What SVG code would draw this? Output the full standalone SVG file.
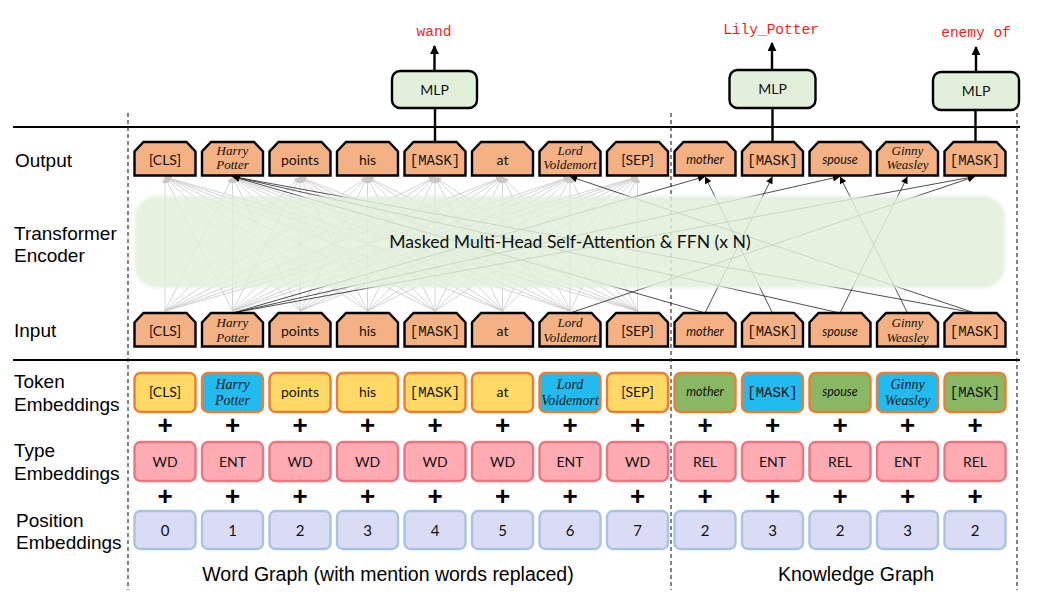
<svg xmlns="http://www.w3.org/2000/svg" width="1041" height="605" viewBox="0 0 1041 605">
<style>
.lbl{font-family:"Liberation Sans",Arial,sans-serif;font-size:19px;fill:#000}
.hex{fill:#F4B183;stroke:#000;stroke-width:2.4}
.tk{stroke:#ED7D31;stroke-width:2.4}
.ty{fill:#FFD966}.tb{fill:#22BBF0}.tg{fill:#88B863}
.typ{fill:#FFABB4;stroke:#EA7680;stroke-width:2.4}
.pos{fill:#DADCF5;stroke:#A9C3E3;stroke-width:2.4}
.mlp{fill:#E2EFDA;stroke:#000;stroke-width:2.4}
.t{font-family:Lato,"Open Sans",sans-serif;font-size:14px;text-anchor:middle;fill:#111}
.ti{font-family:Lato,"Open Sans",sans-serif;font-size:12.5px;font-style:italic;text-anchor:middle;fill:#111}
.m{font-family:"Liberation Mono",monospace;font-size:14px;text-anchor:middle;fill:#111}
.s{font-family:"Liberation Serif",serif;font-style:italic;font-size:13px;text-anchor:middle;fill:#111}
.red{font-family:"Liberation Mono",monospace;font-size:14.5px;text-anchor:middle;fill:#F01E1E}
.plus{font-family:"Liberation Sans",Arial,sans-serif;font-weight:bold;font-size:26px;text-anchor:middle}
.gl line{stroke:#C8C8C8;stroke-width:0.8;marker-end:url(#ga)}
.bl line{stroke:#222;stroke-width:0.8;marker-end:url(#ba)}
.sep{stroke:#000;stroke-width:2}
.dash{stroke:#333;stroke-width:1.2;stroke-dasharray:4 3}
</style>
<defs>
<path id="hx" d="M-30.5,33.5V9.5L-21.5,0H21.5L30.5,9.5V33.5Z"/>
<marker id="ga" viewBox="0 0 10 10" refX="10" refY="5" markerWidth="7" markerHeight="6" markerUnits="userSpaceOnUse" orient="auto"><path d="M0,0L10,5L0,10Z" fill="#C8C8C8"/></marker>
<marker id="ba" viewBox="0 0 10 10" refX="10" refY="5" markerWidth="8" markerHeight="7" markerUnits="userSpaceOnUse" orient="auto"><path d="M0,0L10,5L0,10Z" fill="#000"/></marker>
<marker id="ka" viewBox="0 0 10 10" refX="9" refY="5" markerWidth="9" markerHeight="9" markerUnits="userSpaceOnUse" orient="auto"><path d="M0,0L10,5L0,10Z" fill="#000"/></marker>
<filter id="soft" x="-5%" y="-10%" width="110%" height="120%"><feGaussianBlur stdDeviation="1.5"/></filter>
</defs>
<rect width="1041" height="605" fill="#fff"/>

<!-- separators -->
<g id="frame">
<line class="sep" x1="13" y1="127" x2="1020" y2="127"/>
<line class="sep" x1="13" y1="360" x2="1020" y2="360"/>
<line class="dash" x1="128" y1="113" x2="128" y2="590"/>
<line class="dash" x1="671" y1="113" x2="671" y2="590"/>
<line class="dash" x1="1017" y1="113" x2="1017" y2="590"/>
</g>

<!-- row labels -->
<g id="labels" class="lbl">
<text x="15" y="167">Output</text>
<text x="14" y="240">Transformer</text>
<text x="14" y="262">Encoder</text>
<text x="14" y="337">Input</text>
<text x="14" y="388">Token</text>
<text x="14" y="411">Embeddings</text>
<text x="14" y="457">Type</text>
<text x="14" y="480">Embeddings</text>
<text x="16" y="527">Position</text>
<text x="16" y="549">Embeddings</text>
<text x="388" y="581" style="text-anchor:middle;font-size:19.5px">Word Graph (with mention words replaced)</text>
<text x="856" y="581" style="text-anchor:middle;font-size:19.5px">Knowledge Graph</text>
</g>

<!-- connectors -->
<g id="connectors">
<g class="gl">
<line x1="165" y1="311" x2="165" y2="177"/><line x1="165" y1="311" x2="232.5" y2="177"/><line x1="165" y1="311" x2="300" y2="177"/><line x1="165" y1="311" x2="367.5" y2="177"/><line x1="165" y1="311" x2="435" y2="177"/><line x1="165" y1="311" x2="502.5" y2="177"/><line x1="165" y1="311" x2="570" y2="177"/><line x1="165" y1="311" x2="637.5" y2="177"/>
<line x1="232.5" y1="311" x2="165" y2="177"/><line x1="232.5" y1="311" x2="232.5" y2="177"/><line x1="232.5" y1="311" x2="300" y2="177"/><line x1="232.5" y1="311" x2="367.5" y2="177"/><line x1="232.5" y1="311" x2="435" y2="177"/><line x1="232.5" y1="311" x2="502.5" y2="177"/><line x1="232.5" y1="311" x2="570" y2="177"/><line x1="232.5" y1="311" x2="637.5" y2="177"/>
<line x1="300" y1="311" x2="165" y2="177"/><line x1="300" y1="311" x2="232.5" y2="177"/><line x1="300" y1="311" x2="300" y2="177"/><line x1="300" y1="311" x2="367.5" y2="177"/><line x1="300" y1="311" x2="435" y2="177"/><line x1="300" y1="311" x2="502.5" y2="177"/><line x1="300" y1="311" x2="570" y2="177"/><line x1="300" y1="311" x2="637.5" y2="177"/>
<line x1="367.5" y1="311" x2="165" y2="177"/><line x1="367.5" y1="311" x2="232.5" y2="177"/><line x1="367.5" y1="311" x2="300" y2="177"/><line x1="367.5" y1="311" x2="367.5" y2="177"/><line x1="367.5" y1="311" x2="435" y2="177"/><line x1="367.5" y1="311" x2="502.5" y2="177"/><line x1="367.5" y1="311" x2="570" y2="177"/><line x1="367.5" y1="311" x2="637.5" y2="177"/>
<line x1="435" y1="311" x2="165" y2="177"/><line x1="435" y1="311" x2="232.5" y2="177"/><line x1="435" y1="311" x2="300" y2="177"/><line x1="435" y1="311" x2="367.5" y2="177"/><line x1="435" y1="311" x2="435" y2="177"/><line x1="435" y1="311" x2="502.5" y2="177"/><line x1="435" y1="311" x2="570" y2="177"/><line x1="435" y1="311" x2="637.5" y2="177"/>
<line x1="502.5" y1="311" x2="165" y2="177"/><line x1="502.5" y1="311" x2="232.5" y2="177"/><line x1="502.5" y1="311" x2="300" y2="177"/><line x1="502.5" y1="311" x2="367.5" y2="177"/><line x1="502.5" y1="311" x2="435" y2="177"/><line x1="502.5" y1="311" x2="502.5" y2="177"/><line x1="502.5" y1="311" x2="570" y2="177"/><line x1="502.5" y1="311" x2="637.5" y2="177"/>
<line x1="570" y1="311" x2="165" y2="177"/><line x1="570" y1="311" x2="232.5" y2="177"/><line x1="570" y1="311" x2="300" y2="177"/><line x1="570" y1="311" x2="367.5" y2="177"/><line x1="570" y1="311" x2="435" y2="177"/><line x1="570" y1="311" x2="502.5" y2="177"/><line x1="570" y1="311" x2="570" y2="177"/><line x1="570" y1="311" x2="637.5" y2="177"/>
<line x1="637.5" y1="311" x2="165" y2="177"/><line x1="637.5" y1="311" x2="232.5" y2="177"/><line x1="637.5" y1="311" x2="300" y2="177"/><line x1="637.5" y1="311" x2="367.5" y2="177"/><line x1="637.5" y1="311" x2="435" y2="177"/><line x1="637.5" y1="311" x2="502.5" y2="177"/><line x1="637.5" y1="311" x2="570" y2="177"/><line x1="637.5" y1="311" x2="637.5" y2="177"/>
</g>
<g class="bl">
<line x1="232.5" y1="313" x2="705" y2="176.5"/>
<line x1="705" y1="313" x2="232.5" y2="176.5"/>
<line x1="705" y1="313" x2="772.5" y2="176.5"/>
<line x1="772.5" y1="313" x2="705" y2="176.5"/>
<line x1="232.5" y1="313" x2="840" y2="176.5"/>
<line x1="840" y1="313" x2="232.5" y2="176.5"/>
<line x1="840" y1="313" x2="907.5" y2="176.5"/>
<line x1="907.5" y1="313" x2="840" y2="176.5"/>
<line x1="232.5" y1="313" x2="975" y2="176.5"/>
<line x1="975" y1="313" x2="232.5" y2="176.5"/>
<line x1="975" y1="313" x2="570" y2="176.5"/>
<line x1="570" y1="313" x2="975" y2="176.5"/>
</g>
<g stroke="#000" stroke-width="2.4">
<line x1="435" y1="142" x2="435" y2="108"/>
<line x1="772.5" y1="142" x2="772.5" y2="108"/>
<line x1="975.5" y1="142" x2="975.5" y2="110"/>
<line x1="434.5" y1="71" x2="434.5" y2="46" marker-end="url(#ka)"/>
<line x1="772" y1="70" x2="772" y2="43" marker-end="url(#ka)"/>
<line x1="976" y1="72" x2="976" y2="47" marker-end="url(#ka)"/>
</g>
</g>

<!-- encoder -->
<g id="encoder">
<rect x="135" y="196" width="870" height="92" rx="22" fill="#E2EFD9" fill-opacity="0.85" filter="url(#soft)"/>
<text x="570" y="248" style="font-family:Lato,'Open Sans',sans-serif;font-size:17.6px;text-anchor:middle;fill:#111">Masked Multi-Head Self-Attention &amp; FFN (x N)</text>
</g>

<!-- MLP heads -->
<g id="mlp-wand"><rect class="mlp" x="392" y="71" width="85" height="37" rx="8"/><text class="t" x="434.5" y="94.5">MLP</text><text class="red" x="434" y="36">wand</text></g>
<g id="mlp-lily"><rect class="mlp" x="729.5" y="70" width="86" height="38" rx="8"/><text class="t" x="772.5" y="94">MLP</text><text class="red" x="771" y="34">Lily_Potter</text></g>
<g id="mlp-enemy"><rect class="mlp" x="933" y="72" width="86" height="38" rx="8"/><text class="t" x="976" y="96">MLP</text><text class="red" x="976" y="37">enemy of</text></g>

<!-- output nodes -->
<g id="out-0"><use href="#hx" class="hex" x="165" y="142"/><text class="t" x="165" y="165">[CLS]</text></g>
<g id="out-1"><use href="#hx" class="hex" x="232.5" y="142"/><text class="s" x="232.5" y="155">Harry</text><text class="s" x="232.5" y="169">Potter</text></g>
<g id="out-2"><use href="#hx" class="hex" x="300" y="142"/><text class="t" x="300" y="165">points</text></g>
<g id="out-3"><use href="#hx" class="hex" x="367.5" y="142"/><text class="t" x="367.5" y="165">his</text></g>
<g id="out-4"><use href="#hx" class="hex" x="435" y="142"/><text class="m" x="435" y="165">[MASK]</text></g>
<g id="out-5"><use href="#hx" class="hex" x="502.5" y="142"/><text class="t" x="502.5" y="165">at</text></g>
<g id="out-6"><use href="#hx" class="hex" x="570" y="142"/><text class="s" x="570" y="155">Lord</text><text class="s" x="570" y="169">Voldemort</text></g>
<g id="out-7"><use href="#hx" class="hex" x="637.5" y="142"/><text class="t" x="637.5" y="165">[SEP]</text></g>
<g id="out-8"><use href="#hx" class="hex" x="705" y="142"/><text class="ti" x="705" y="164">mother</text></g>
<g id="out-9"><use href="#hx" class="hex" x="772.5" y="142"/><text class="m" x="772.5" y="165">[MASK]</text></g>
<g id="out-10"><use href="#hx" class="hex" x="840" y="142"/><text class="ti" x="840" y="164">spouse</text></g>
<g id="out-11"><use href="#hx" class="hex" x="907.5" y="142"/><text class="s" x="907.5" y="155">Ginny</text><text class="s" x="907.5" y="169">Weasley</text></g>
<g id="out-12"><use href="#hx" class="hex" x="975" y="142"/><text class="m" x="975" y="165">[MASK]</text></g>

<!-- input nodes -->
<g id="in-0"><use href="#hx" class="hex" x="165" y="313"/><text class="t" x="165" y="336">[CLS]</text></g>
<g id="in-1"><use href="#hx" class="hex" x="232.5" y="313"/><text class="s" x="232.5" y="327">Harry</text><text class="s" x="232.5" y="342">Potter</text></g>
<g id="in-2"><use href="#hx" class="hex" x="300" y="313"/><text class="t" x="300" y="336">points</text></g>
<g id="in-3"><use href="#hx" class="hex" x="367.5" y="313"/><text class="t" x="367.5" y="336">his</text></g>
<g id="in-4"><use href="#hx" class="hex" x="435" y="313"/><text class="m" x="435" y="336">[MASK]</text></g>
<g id="in-5"><use href="#hx" class="hex" x="502.5" y="313"/><text class="t" x="502.5" y="336">at</text></g>
<g id="in-6"><use href="#hx" class="hex" x="570" y="313"/><text class="s" x="570" y="327">Lord</text><text class="s" x="570" y="342">Voldemort</text></g>
<g id="in-7"><use href="#hx" class="hex" x="637.5" y="313"/><text class="t" x="637.5" y="336">[SEP]</text></g>
<g id="in-8"><use href="#hx" class="hex" x="705" y="313"/><text class="ti" x="705" y="336">mother</text></g>
<g id="in-9"><use href="#hx" class="hex" x="772.5" y="313"/><text class="m" x="772.5" y="336">[MASK]</text></g>
<g id="in-10"><use href="#hx" class="hex" x="840" y="313"/><text class="ti" x="840" y="336">spouse</text></g>
<g id="in-11"><use href="#hx" class="hex" x="907.5" y="313"/><text class="s" x="907.5" y="327">Ginny</text><text class="s" x="907.5" y="342">Weasley</text></g>
<g id="in-12"><use href="#hx" class="hex" x="975" y="313"/><text class="m" x="975" y="336">[MASK]</text></g>

<!-- token embeddings -->
<g id="tok-0"><rect class="tk ty" x="134.5" y="373" width="61" height="39" rx="6"/><text class="t" x="165" y="397">[CLS]</text></g>
<g id="tok-1"><rect class="tk tb" x="202" y="373" width="61" height="39" rx="6"/><text class="s" x="232.5" y="389" style="font-size:14px">Harry</text><text class="s" x="232.5" y="405" style="font-size:14px">Potter</text></g>
<g id="tok-2"><rect class="tk ty" x="269.5" y="373" width="61" height="39" rx="6"/><text class="t" x="300" y="397">points</text></g>
<g id="tok-3"><rect class="tk ty" x="337" y="373" width="61" height="39" rx="6"/><text class="t" x="367.5" y="397">his</text></g>
<g id="tok-4"><rect class="tk ty" x="404.5" y="373" width="61" height="39" rx="6"/><text class="m" x="435" y="397">[MASK]</text></g>
<g id="tok-5"><rect class="tk ty" x="472" y="373" width="61" height="39" rx="6"/><text class="t" x="502.5" y="397">at</text></g>
<g id="tok-6"><rect class="tk tb" x="539.5" y="373" width="61" height="39" rx="6"/><text class="s" x="570" y="389" style="font-size:14px">Lord</text><text class="s" x="570" y="405" style="font-size:14px">Voldemort</text></g>
<g id="tok-7"><rect class="tk ty" x="607" y="373" width="61" height="39" rx="6"/><text class="t" x="637.5" y="397">[SEP]</text></g>
<g id="tok-8"><rect class="tk tg" x="674.5" y="373" width="61" height="39" rx="6"/><text class="ti" x="705" y="396">mother</text></g>
<g id="tok-9"><rect class="tk tb" x="742" y="373" width="61" height="39" rx="6"/><text class="m" x="772.5" y="397">[MASK]</text></g>
<g id="tok-10"><rect class="tk tg" x="809.5" y="373" width="61" height="39" rx="6"/><text class="ti" x="840" y="396">spouse</text></g>
<g id="tok-11"><rect class="tk tb" x="877" y="373" width="61" height="39" rx="6"/><text class="s" x="907.5" y="389" style="font-size:14px">Ginny</text><text class="s" x="907.5" y="405" style="font-size:14px">Weasley</text></g>
<g id="tok-12"><rect class="tk tg" x="944.5" y="373" width="61" height="39" rx="6"/><text class="m" x="975" y="397">[MASK]</text></g>

<!-- pluses -->
<g id="plus" class="plus">
<text x="165" y="434">+</text><text x="232.5" y="434">+</text><text x="300" y="434">+</text><text x="367.5" y="434">+</text><text x="435" y="434">+</text><text x="502.5" y="434">+</text><text x="570" y="434">+</text><text x="637.5" y="434">+</text><text x="705" y="434">+</text><text x="772.5" y="434">+</text><text x="840" y="434">+</text><text x="907.5" y="434">+</text><text x="975" y="434">+</text>
<text x="165" y="505">+</text><text x="232.5" y="505">+</text><text x="300" y="505">+</text><text x="367.5" y="505">+</text><text x="435" y="505">+</text><text x="502.5" y="505">+</text><text x="570" y="505">+</text><text x="637.5" y="505">+</text><text x="705" y="505">+</text><text x="772.5" y="505">+</text><text x="840" y="505">+</text><text x="907.5" y="505">+</text><text x="975" y="505">+</text>
</g>

<!-- type embeddings -->
<g id="type-0"><rect class="typ" x="134.5" y="442" width="61" height="39" rx="6"/><text class="t" x="165" y="467">WD</text></g>
<g id="type-1"><rect class="typ" x="202" y="442" width="61" height="39" rx="6"/><text class="t" x="232.5" y="467">ENT</text></g>
<g id="type-2"><rect class="typ" x="269.5" y="442" width="61" height="39" rx="6"/><text class="t" x="300" y="467">WD</text></g>
<g id="type-3"><rect class="typ" x="337" y="442" width="61" height="39" rx="6"/><text class="t" x="367.5" y="467">WD</text></g>
<g id="type-4"><rect class="typ" x="404.5" y="442" width="61" height="39" rx="6"/><text class="t" x="435" y="467">WD</text></g>
<g id="type-5"><rect class="typ" x="472" y="442" width="61" height="39" rx="6"/><text class="t" x="502.5" y="467">WD</text></g>
<g id="type-6"><rect class="typ" x="539.5" y="442" width="61" height="39" rx="6"/><text class="t" x="570" y="467">ENT</text></g>
<g id="type-7"><rect class="typ" x="607" y="442" width="61" height="39" rx="6"/><text class="t" x="637.5" y="467">WD</text></g>
<g id="type-8"><rect class="typ" x="674.5" y="442" width="61" height="39" rx="6"/><text class="t" x="705" y="467">REL</text></g>
<g id="type-9"><rect class="typ" x="742" y="442" width="61" height="39" rx="6"/><text class="t" x="772.5" y="467">ENT</text></g>
<g id="type-10"><rect class="typ" x="809.5" y="442" width="61" height="39" rx="6"/><text class="t" x="840" y="467">REL</text></g>
<g id="type-11"><rect class="typ" x="877" y="442" width="61" height="39" rx="6"/><text class="t" x="907.5" y="467">ENT</text></g>
<g id="type-12"><rect class="typ" x="944.5" y="442" width="61" height="39" rx="6"/><text class="t" x="975" y="467">REL</text></g>

<!-- position embeddings -->
<g id="pos-0"><rect class="pos" x="134.5" y="511" width="61" height="38" rx="6"/><text class="t" x="165" y="536" style="font-size:15px">0</text></g>
<g id="pos-1"><rect class="pos" x="202" y="511" width="61" height="38" rx="6"/><text class="t" x="232.5" y="536" style="font-size:15px">1</text></g>
<g id="pos-2"><rect class="pos" x="269.5" y="511" width="61" height="38" rx="6"/><text class="t" x="300" y="536" style="font-size:15px">2</text></g>
<g id="pos-3"><rect class="pos" x="337" y="511" width="61" height="38" rx="6"/><text class="t" x="367.5" y="536" style="font-size:15px">3</text></g>
<g id="pos-4"><rect class="pos" x="404.5" y="511" width="61" height="38" rx="6"/><text class="t" x="435" y="536" style="font-size:15px">4</text></g>
<g id="pos-5"><rect class="pos" x="472" y="511" width="61" height="38" rx="6"/><text class="t" x="502.5" y="536" style="font-size:15px">5</text></g>
<g id="pos-6"><rect class="pos" x="539.5" y="511" width="61" height="38" rx="6"/><text class="t" x="570" y="536" style="font-size:15px">6</text></g>
<g id="pos-7"><rect class="pos" x="607" y="511" width="61" height="38" rx="6"/><text class="t" x="637.5" y="536" style="font-size:15px">7</text></g>
<g id="pos-8"><rect class="pos" x="674.5" y="511" width="61" height="38" rx="6"/><text class="t" x="705" y="536" style="font-size:15px">2</text></g>
<g id="pos-9"><rect class="pos" x="742" y="511" width="61" height="38" rx="6"/><text class="t" x="772.5" y="536" style="font-size:15px">3</text></g>
<g id="pos-10"><rect class="pos" x="809.5" y="511" width="61" height="38" rx="6"/><text class="t" x="840" y="536" style="font-size:15px">2</text></g>
<g id="pos-11"><rect class="pos" x="877" y="511" width="61" height="38" rx="6"/><text class="t" x="907.5" y="536" style="font-size:15px">3</text></g>
<g id="pos-12"><rect class="pos" x="944.5" y="511" width="61" height="38" rx="6"/><text class="t" x="975" y="536" style="font-size:15px">2</text></g>
</svg>
